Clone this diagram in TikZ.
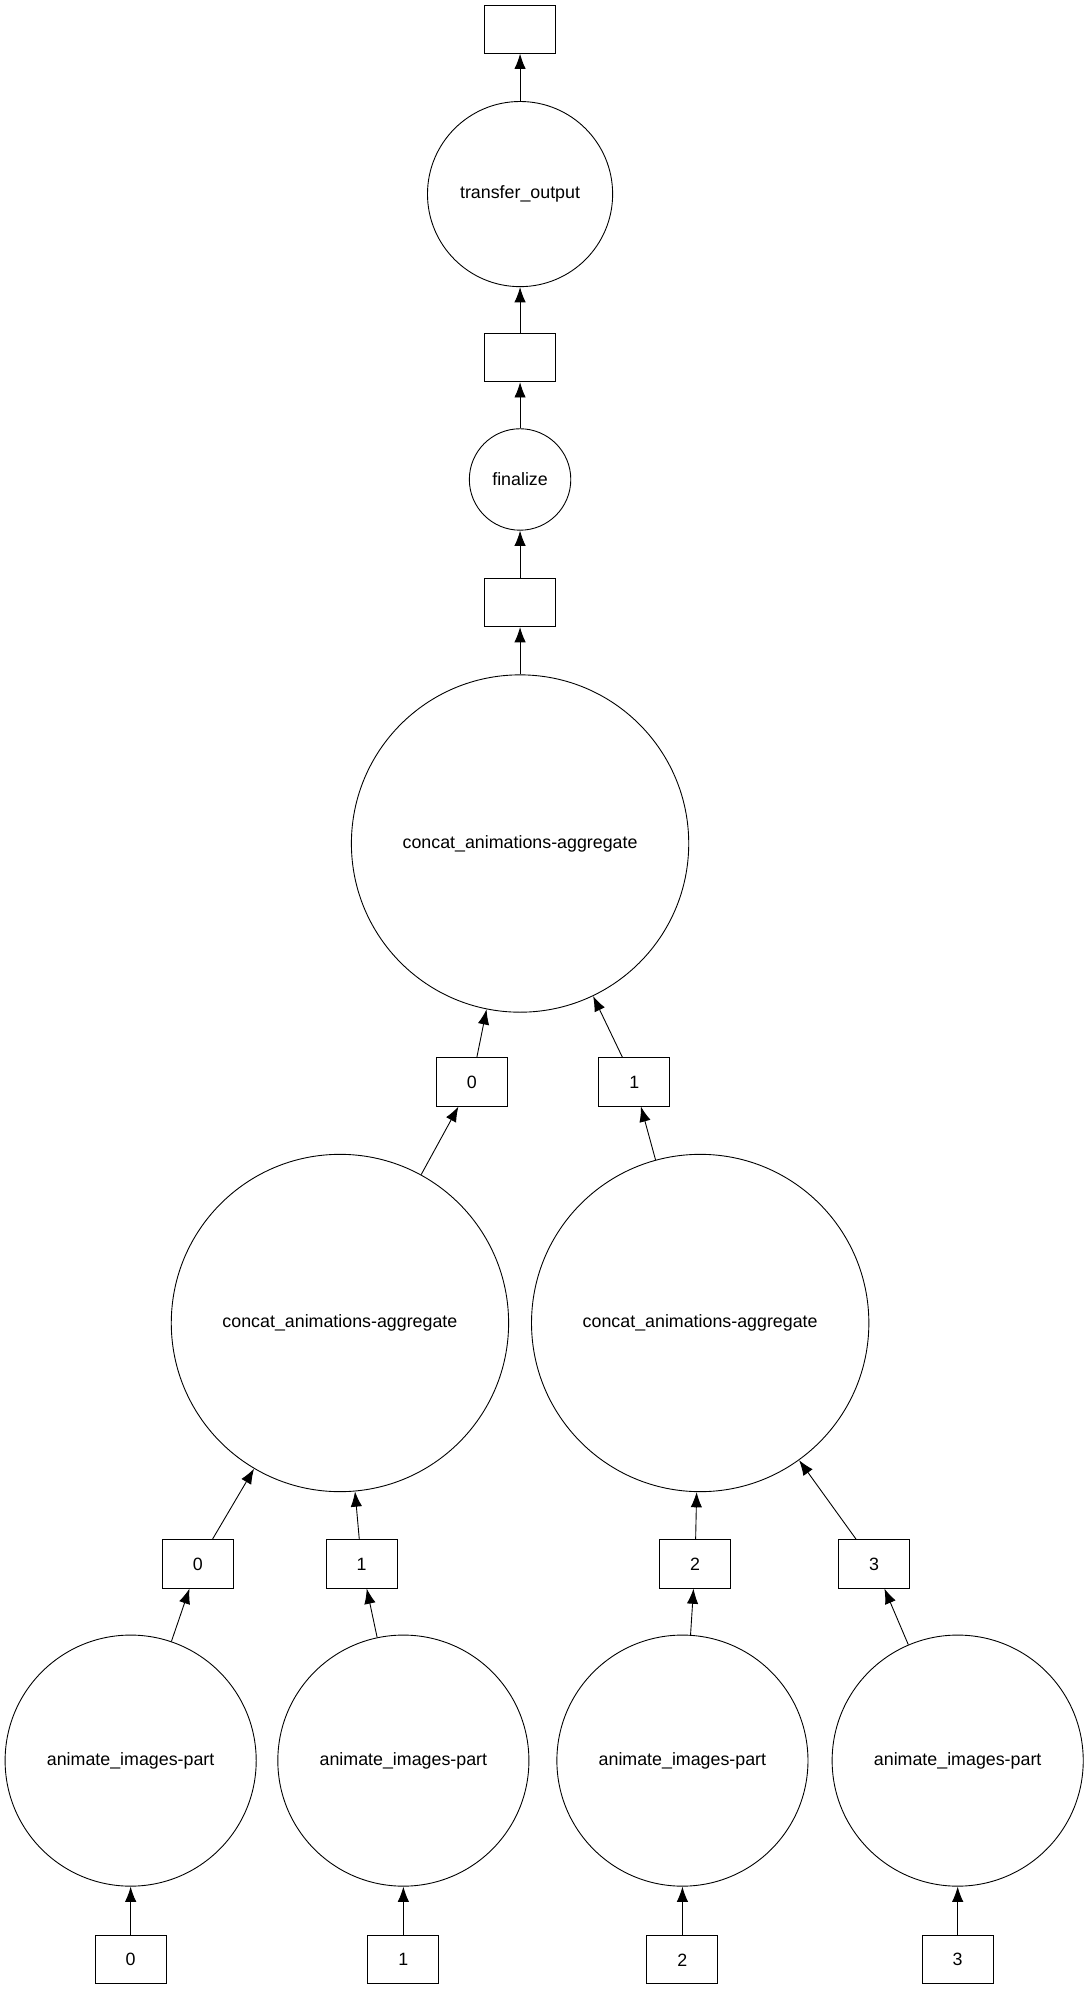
\documentclass[tikz,border=0pt]{standalone}
\usepackage{fontspec}
\setmainfont{Liberation Sans}
\usetikzlibrary{arrows.meta}
\tikzstyle{key} = [draw, rectangle, minimum width=1.12cm, minimum height=0.76cm, inner sep=0pt]
\tikzstyle{task} = [draw, circle, inner sep=0pt]
\begin{document}
\begin{tikzpicture}[x=0.02cm, y=-0.02cm, >={Latex[length=2.4mm,width=1.8mm]}, font=\fontsize{8}{10}\selectfont]
	\useasboundingbox (0,0) rectangle (860,1572);
	% top chain
	\node [key] (out) at (410,23) {};
	\node [task, minimum size=2.92cm] (transfer) at (410,153) {transfer\_output};
	\node [key] (k2) at (410,282) {};
	\node [task, minimum size=1.6cm] (finalize) at (410,378) {finalize};
	\node [key] (k3) at (410,475) {};
	\node [task, minimum size=5.32cm] (agg) at (410,665) {concat\_animations-aggregate};
	
	\node [key] (a0) at (372,853) {0};
	\node [key] (a1) at (500,853) {1};
	\node [task, minimum size=5.32cm] (aggL) at (268,1043) {concat\_animations-aggregate};
	\node [task, minimum size=5.32cm] (aggR) at (552,1043) {concat\_animations-aggregate};
	
	\node [key] (b0) at (156,1233) {0};
	\node [key] (b1) at (285,1233) {1};
	\node [key] (b2) at (548,1233) {2};
	\node [key] (b3) at (689,1233) {3};
	
	\node [task, minimum size=3.96cm] (p0) at (103,1388) {animate\_images-part};
	\node [task, minimum size=3.96cm] (p1) at (318,1388) {animate\_images-part};
	\node [task, minimum size=3.96cm] (p2) at (538,1388) {animate\_images-part};
	\node [task, minimum size=3.96cm] (p3) at (755,1388) {animate\_images-part};
	
	\node [key] (i0) at (103,1545) {0};
	\node [key] (i1) at (318,1545) {1};
	\node [key] (i2) at (538,1545) {2};
	\node [key] (i3) at (755,1545) {3};
	
	\draw [->] (transfer) -- (out);
	\draw [->] (k2) -- (transfer);
	\draw [->] (finalize) -- (k2);
	\draw [->] (k3) -- (finalize);
	\draw [->] (agg) -- (k3);
	\draw [->] (a0) -- (agg);
	\draw [->] (a1) -- (agg);
	\draw [->] (aggL) -- (a0);
	\draw [->] (aggR) -- (a1);
	\draw [->] (b0) -- (aggL);
	\draw [->] (b1) -- (aggL);
	\draw [->] (b2) -- (aggR);
	\draw [->] (b3) -- (aggR);
	\draw [->] (p0) -- (b0);
	\draw [->] (p1) -- (b1);
	\draw [->] (p2) -- (b2);
	\draw [->] (p3) -- (b3);
	\draw [->] (i0) -- (p0);
	\draw [->] (i1) -- (p1);
	\draw [->] (i2) -- (p2);
	\draw [->] (i3) -- (p3);
\end{tikzpicture}
\end{document}
